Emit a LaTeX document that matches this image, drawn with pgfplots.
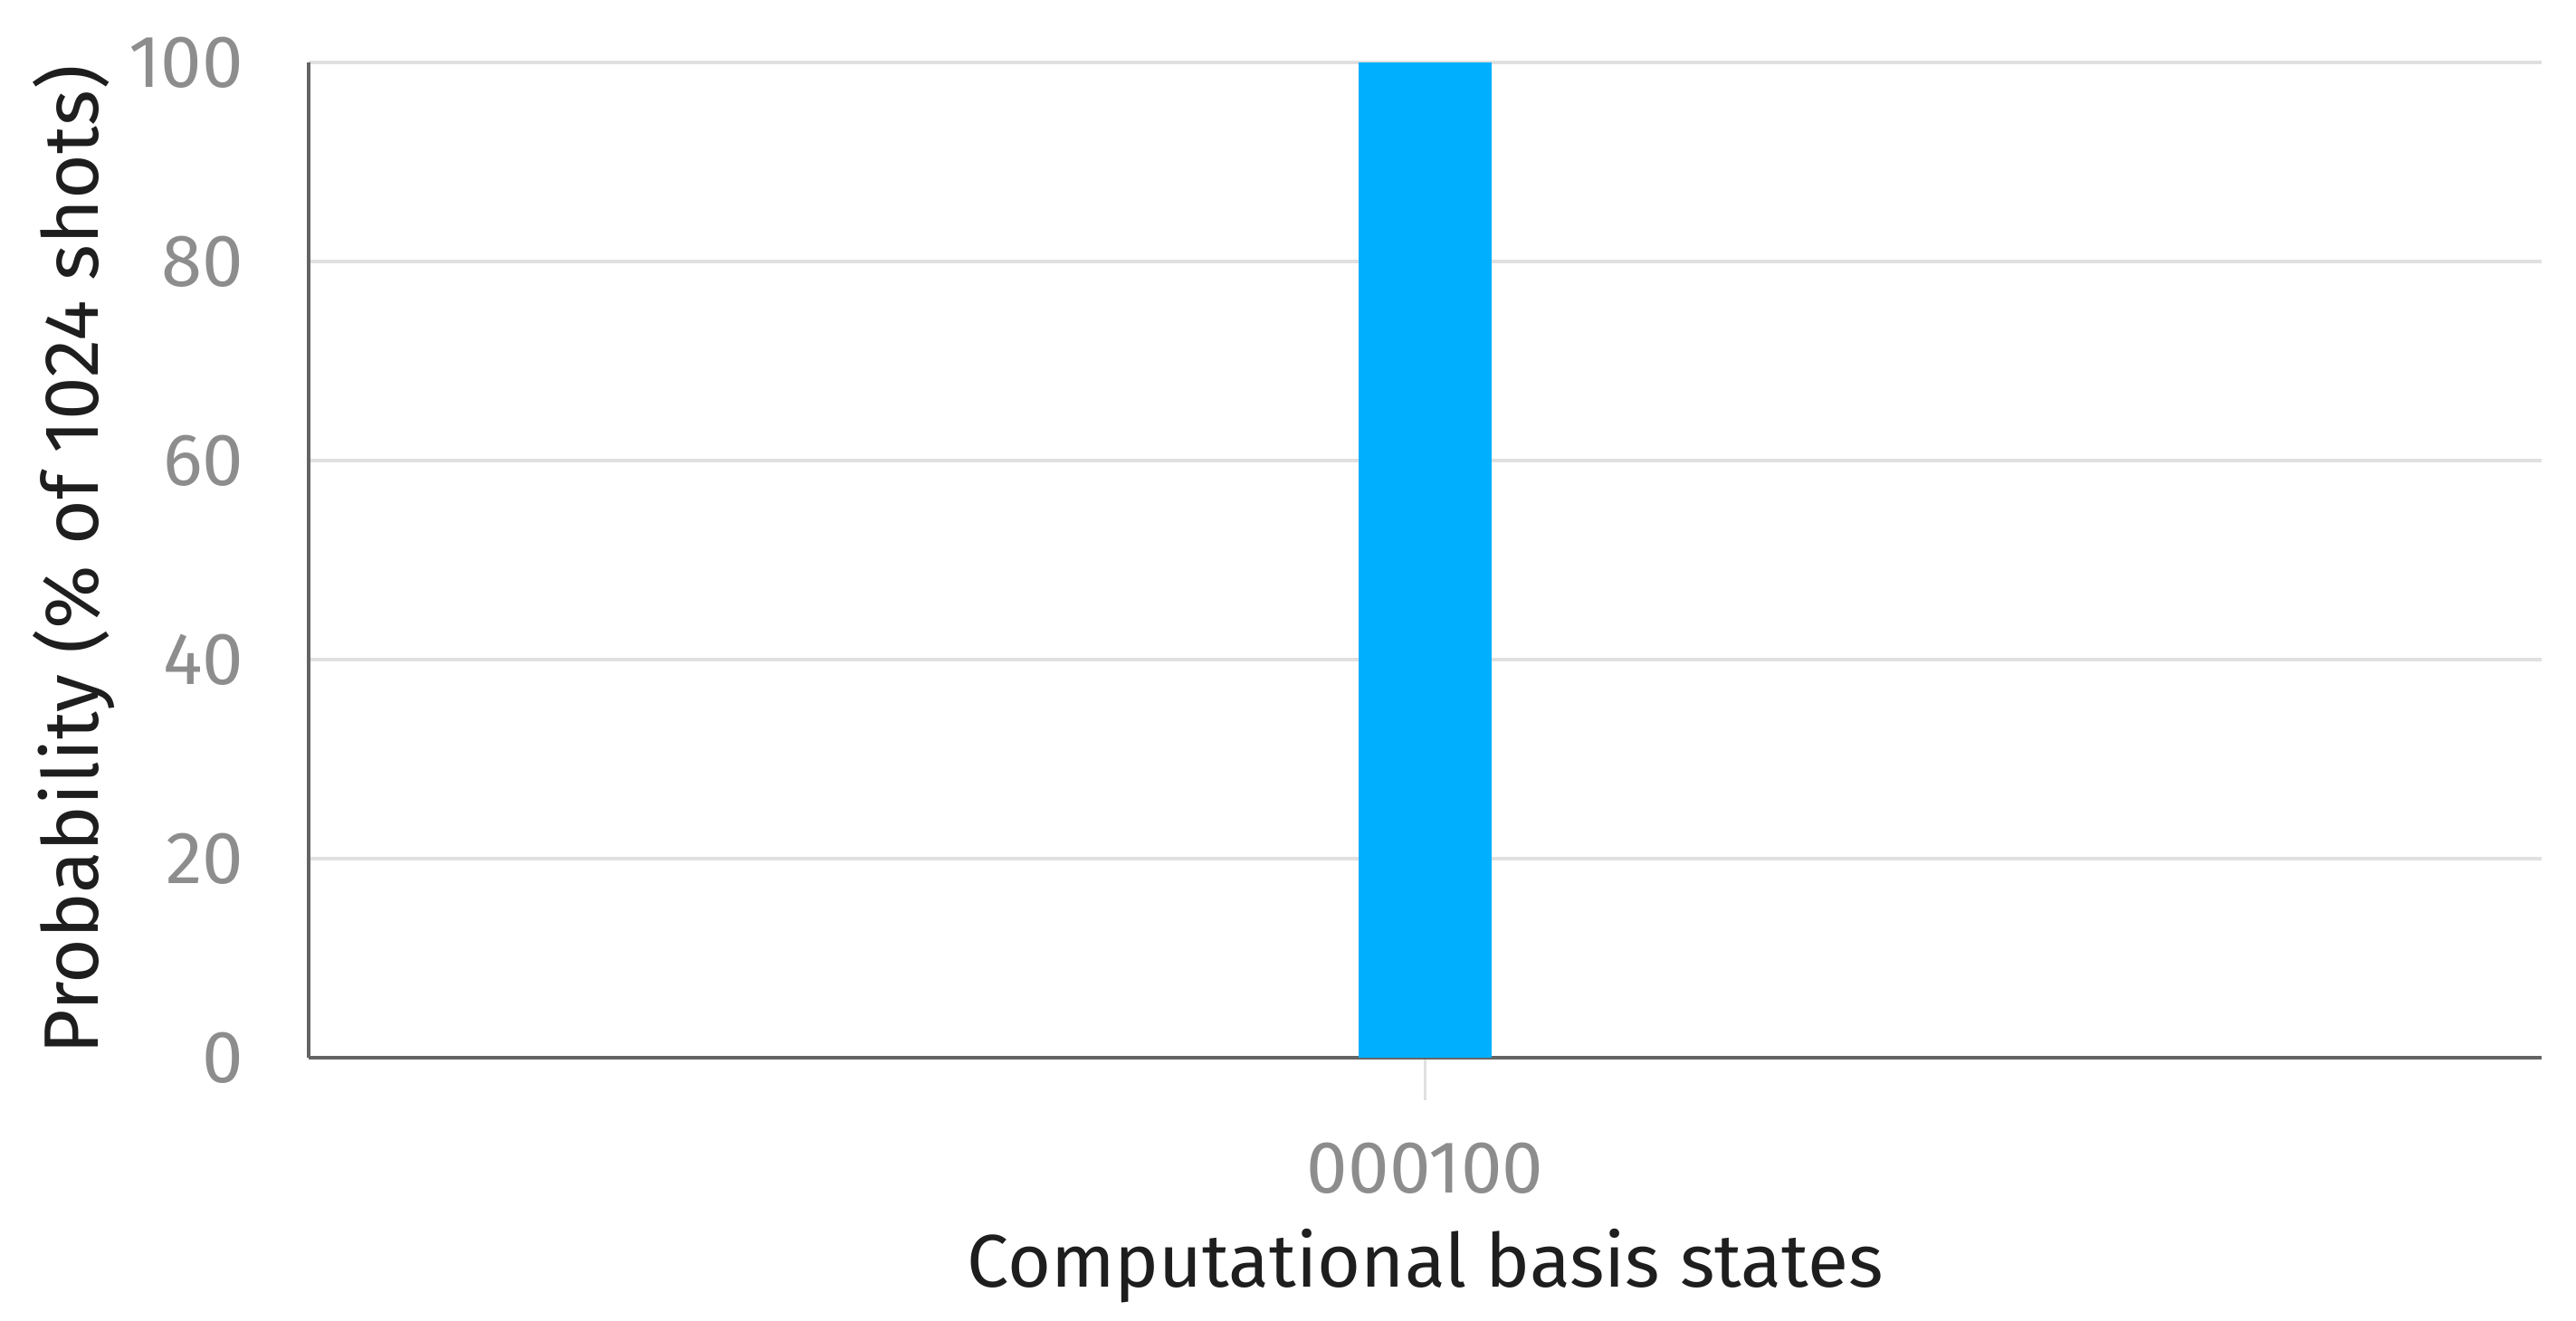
\documentclass[border=0pt]{standalone}
\usepackage{fontspec}
\setmainfont{Fira Sans}
\usepackage{pgfplots}
\pgfplotsset{compat=1.18}
\definecolor{barblue}{RGB}{0,176,255}
\definecolor{gridgray}{RGB}{224,224,224}
\definecolor{axgray}{RGB}{100,100,100}
\definecolor{tickgray}{RGB}{141,141,141}
\definecolor{labeltext}{RGB}{30,30,30}

\begin{document}
\begin{tikzpicture}
\begin{axis}[
  name=ax,
  scale only axis,
  width=344.4pt, height=153.6pt,
  xmin=-0.5, xmax=0.5,
  ymin=0, ymax=100,
  ybar, bar width=20.5pt,
  xtick={0}, xticklabels={000100},
  ytick={0,20,40,60,80,100},
  axis x line*=bottom, axis y line*=left,
  axis line style={-, draw=axgray, line width=0.65pt},
  ymajorgrids, grid style={gridgray, line width=0.5pt},
  tick align=outside,
  major tick length=6.5pt,
  xtick style={draw=gridgray, line width=0.4pt},
  ytick style={draw=none},
  tick label style={font=\fontsize{11.4}{13}\selectfont, text=tickgray},
  /pgf/number format/assume math mode=true,
  yticklabel style={anchor=east, xshift=0pt},
  xticklabel style={anchor=center, yshift=-10.5pt},
  xlabel={Computational basis states},
  ylabel={Probability (\% of 1024 shots)},
  every axis x label/.style={at={(axis description cs:0.5,0)}, anchor=center, yshift=-32.1pt,
    font=\fontsize{11.5}{14}\selectfont, text=labeltext},
  every axis y label/.style={at={(axis description cs:0,0.5)}, anchor=center, rotate=90, yshift=36.2pt,
    font=\fontsize{11.9}{14}\selectfont, text=labeltext},
  clip=false,
]
\addplot[fill=barblue, draw=none] coordinates {(0,100)};
\end{axis}
\pgfresetboundingbox
\path ([xshift=-47.6pt,yshift=-40.5pt]ax.south west) rectangle ([xshift=5.3pt,yshift=9.6pt]ax.north east);
\end{tikzpicture}
\end{document}
